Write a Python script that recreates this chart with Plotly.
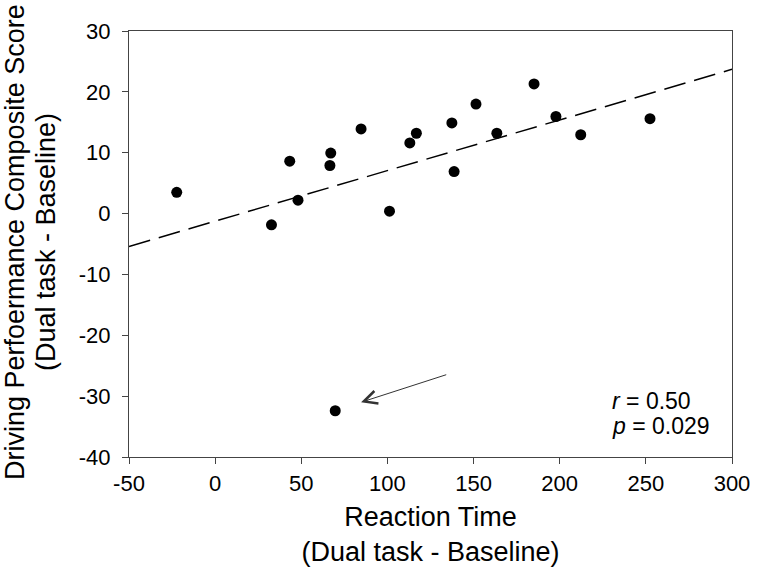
import numpy as np
import plotly.graph_objects as go

# Data (Dual task - Baseline)
reaction_time = [-22.3, 32.7, 43.3, 48.1, 67.1, 66.6, 84.7, 101.2, 113.0, 116.8,
                 137.4, 138.7, 151.4, 163.5, 185.1, 197.8, 212.2, 252.4, 69.7]
driving_score = [3.5, -1.85, 8.6, 2.2, 9.95, 7.9, 13.9, 0.4, 11.6, 13.2,
                 14.9, 6.9, 18.0, 13.2, 21.3, 15.95, 12.95, 15.6, -32.4]

x_ticks = [-50, 0, 50, 100, 150, 200, 250, 300]
y_ticks = [-40, -30, -20, -10, 0, 10, 20, 30]
x_range = [-50, 300]
y_range = [-40, 30]

y_title_lines = ["Driving Perfoermance Composite Score", "(Dual task - Baseline)"]
x_title = "Reaction Time<br>(Dual task - Baseline)"

# Least-squares fit over all points
slope, intercept = np.polyfit(reaction_time, driving_score, 1)
fit_x = np.array(x_range, dtype=float)
fit_y = slope * fit_x + intercept

FONT = "Liberation Sans, Arial, sans-serif"
AX = "#444444"

fig = go.Figure()
fig.add_trace(go.Scatter(
    x=fit_x, y=fit_y, mode="lines",
    line=dict(color="black", width=1.5, dash="22px,9px"),
    hoverinfo="skip", showlegend=False))
fig.add_trace(go.Scatter(
    x=reaction_time, y=driving_score, mode="markers",
    marker=dict(color="black", size=11),
    showlegend=False))

# arrow pointing at the outlier
fig.add_annotation(x=84.7, y=-31.0, ax=135, ay=-26.4, xref="x", yref="y",
                   axref="x", ayref="y", text="", showarrow=True,
                   arrowhead=5, arrowsize=2.6, arrowwidth=1, arrowcolor="#333333")

fig.add_annotation(x=229, y=-30.8, xref="x", yref="y", text="<i>r</i> = 0.50",
                   showarrow=False, xanchor="left", yanchor="middle",
                   font=dict(family=FONT, size=23, color="black"))
fig.add_annotation(x=229, y=-34.9, xref="x", yref="y", text="<i>p</i> = 0.029",
                   showarrow=False, xanchor="left", yanchor="middle",
                   font=dict(family=FONT, size=23, color="black"))

# y-axis title, two rotated lines
for line_text, shift in zip(y_title_lines, [-114, -83]):
    fig.add_annotation(x=0, y=0.5, xref="paper", yref="paper", text=line_text,
                       textangle=-90, showarrow=False, xanchor="center",
                       yanchor="middle", xshift=shift, yshift=2,
                       font=dict(family=FONT, size=27, color="black"))

fig.update_layout(
    width=762, height=584,
    margin=dict(l=129, r=26, t=31, b=127),
    paper_bgcolor="white", plot_bgcolor="white",
    font=dict(family=FONT, size=22, color="black"),
    xaxis=dict(
        range=x_range, tickvals=x_ticks, ticktext=[str(v) for v in x_ticks],
        showgrid=False, zeroline=False, showline=True, mirror=True,
        linecolor=AX, linewidth=1.2, ticks="outside", ticklen=6, tickcolor=AX,
        tickfont=dict(family=FONT, size=22, color="black"),
        title=dict(text=x_title,
                   font=dict(family=FONT, size=27, color="black"), standoff=12),
    ),
    yaxis=dict(
        range=y_range, tickvals=y_ticks, ticktext=[str(v) for v in y_ticks],
        showgrid=False, zeroline=False, showline=True, mirror=True,
        linecolor=AX, linewidth=1.2, ticks="outside", ticklen=6, tickcolor=AX,
        ticklabelstandoff=7,
        tickfont=dict(family=FONT, size=22, color="black"),
    ),
)

fig.write_html("out.html", post_script="document.body.style.margin='0';",
               config={"displayModeBar": False})
